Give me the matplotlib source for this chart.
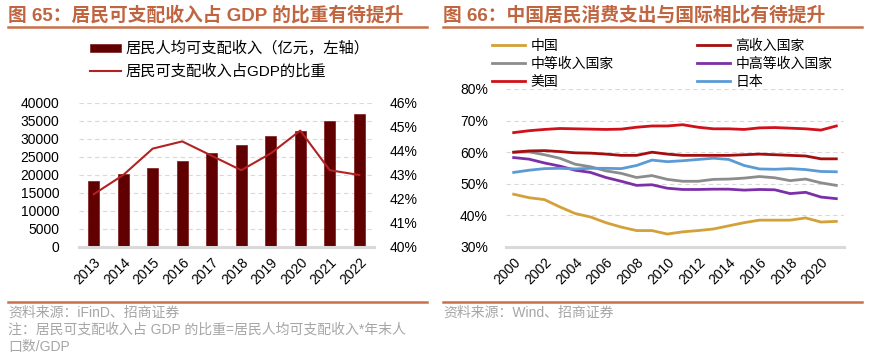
import matplotlib
matplotlib.use("Agg")
import matplotlib.pyplot as plt
from matplotlib.lines import Line2D

plt.rcParams['font.family'] = ['Liberation Sans', 'Noto Sans CJK SC']
plt.rcParams['axes.unicode_minus'] = False

# left chart data
years_l = ["2013", "2014", "2015", "2016", "2017", "2018", "2019", "2020", "2021", "2022"]
income = [18311, 20167, 21966, 23821, 25974, 28228, 30733, 32189, 35128, 36883]
gdp_share = [42.2, 43.0, 44.1, 44.4, 43.8, 43.2, 43.9, 44.85, 43.2, 43.0]

# right chart data
years_r = list(range(2000, 2022))
china = [46.7, 45.6, 45.0, 42.7, 40.6, 39.5, 37.7, 36.3, 35.2, 35.2, 34.1, 34.8,
         35.2, 35.7, 36.7, 37.7, 38.5, 38.5, 38.5, 39.2, 37.9, 38.1]
high_inc = [60.0, 60.4, 60.5, 60.2, 59.8, 59.7, 59.4, 59.0, 59.0, 60.0, 59.4, 59.0,
            59.0, 59.0, 59.0, 59.2, 59.4, 59.2, 59.0, 58.8, 57.9, 57.9]
mid_inc = [60.0, 60.1, 59.2, 58.1, 56.2, 55.4, 54.1, 53.3, 52.0, 52.6, 51.4, 50.8,
           50.8, 51.4, 51.5, 51.8, 52.3, 51.9, 51.0, 51.5, 50.3, 49.5]
upmid_inc = [58.3, 57.8, 56.6, 55.6, 54.3, 53.6, 52.0, 50.8, 49.5, 49.7, 48.6, 48.2,
             48.2, 48.3, 48.3, 48.0, 48.2, 48.1, 46.9, 47.3, 45.8, 45.3]
usa = [66.2, 66.8, 67.2, 67.5, 67.4, 67.3, 67.2, 67.3, 67.9, 68.3, 68.3, 68.7,
       67.9, 67.4, 67.4, 67.2, 67.7, 67.8, 67.6, 67.4, 67.0, 68.3]
japan = [53.6, 54.3, 54.8, 54.9, 54.7, 54.9, 54.9, 54.8, 55.8, 57.5, 57.0, 57.3,
         57.7, 58.1, 57.7, 55.8, 54.7, 54.6, 54.8, 54.5, 53.9, 53.8]

TITLE_C = '#C0653F'
SRC_C = '#A6A6A6'
GRID_C = '#D9D9D9'

fig = plt.figure(figsize=(8.7, 3.63), dpi=100)


def style_axis(ax):
    for s in ['top', 'left', 'right']:
        ax.spines[s].set_visible(False)
    ax.spines['bottom'].set_color(GRID_C)
    ax.spines['bottom'].set_linewidth(2.2)
    ax.tick_params(length=0, labelsize=10, colors='black')
    ax.grid(axis='y', linestyle=(0, (4, 3)), color=GRID_C, linewidth=0.8)
    ax.set_axisbelow(True)


# ---- left chart ----
ax1 = fig.add_axes([79 / 870, 1 - 247 / 363, 295 / 870, 144 / 363])
style_axis(ax1)
x1 = list(range(len(years_l)))
ax1.bar(x1, income, width=0.36, color='#600000', edgecolor='#7a1a1a', linewidth=0.5,
        label='居民人均可支配收入（亿元，左轴）', zorder=2)
ax1.set_ylim(0, 40000)
ax1.set_yticks(range(0, 40001, 5000))
ax1.set_xlim(-0.5, len(years_l) - 0.5)
ax1.set_xticks(x1)
ax1.set_xticklabels(years_l, rotation=45, ha='right', rotation_mode='anchor')
ax1.tick_params(axis='y', pad=14)
ax1.tick_params(axis='x', pad=6)

ax2 = ax1.twinx()
for s in ['top', 'left', 'right', 'bottom']:
    ax2.spines[s].set_visible(False)
ax2.plot(x1, gdp_share, color='#B22222', linewidth=1.5, label='居民可支配收入占GDP的比重', zorder=3)
ax2.set_ylim(40, 46)
ax2.set_yticks(range(40, 47))
ax2.set_yticklabels([f"{v}%" for v in range(40, 47)])
ax2.tick_params(length=0, labelsize=10, pad=11)

h1, l1 = ax1.get_legend_handles_labels()
h2, l2 = ax2.get_legend_handles_labels()
ax2.legend(h1 + h2, l1 + l2, loc='upper left', bbox_to_anchor=(90 / 870, 1 - 41 / 363),
           bbox_transform=fig.transFigure, frameon=False, fontsize=11,
           handlelength=2.0, handleheight=0.5, handletextpad=0.3, labelspacing=0.55,
           borderaxespad=0, borderpad=0)

# ---- right chart ----
ax3 = fig.add_axes([506 / 870, 1 - 247 / 363, 338 / 870, 158 / 363])
style_axis(ax3)
x3 = list(range(len(years_r)))
series = [
    (china, '#D4A039', '中国'),
    (mid_inc, '#8C8C8C', '中等收入国家'),
    (usa, '#D0101A', '美国'),
    (high_inc, '#A50E0E', '高收入国家'),
    (upmid_inc, '#7B2FA8', '中高等收入国家'),
    (japan, '#5B9BD5', '日本'),
]
handles = []
for vals, col, name in series:
    ax3.plot(x3, vals, color=col, linewidth=2, zorder=3)
    handles.append(Line2D([], [], color=col, linewidth=2, label=name))
ax3.set_ylim(30, 80)
ax3.set_yticks(range(30, 81, 10))
ax3.set_yticklabels([f"{v}%" for v in range(30, 81, 10)])
ax3.set_xlim(-0.5, len(years_r) - 0.5)
ax3.set_xticks(x3[::2])
ax3.set_xticklabels([str(y) for y in years_r[::2]], rotation=45, ha='right', rotation_mode='anchor')
ax3.tick_params(axis='y', pad=13)
ax3.tick_params(axis='x', pad=6)
ax3.legend(handles=handles, ncol=2, loc='upper left', bbox_to_anchor=(492 / 870, 1 - 39 / 363),
           bbox_transform=fig.transFigure, frameon=False, fontsize=10,
           handlelength=2.4, handletextpad=0.36, labelspacing=0.3, columnspacing=6.0,
           borderaxespad=0, borderpad=0)

# ---- titles, rules and notes ----
fig.text(8 / 870, 1 - 15 / 363, '图 65：居民可支配收入占 GDP 的比重有待提升', fontsize=13.5,
         fontweight='bold', color=TITLE_C, va='center', ha='left')
fig.text(443 / 870, 1 - 15 / 363, '图 66：中国居民消费支出与国际相比有待提升', fontsize=13.5,
         fontweight='bold', color=TITLE_C, va='center', ha='left')
for x0, x1_ in [(8, 427), (443, 862)]:
    fig.add_artist(Line2D([x0 / 870, x1_ / 870], [1 - 26.5 / 363] * 2, color='#C8704A', linewidth=1.8))
    fig.add_artist(Line2D([x0 / 870, x1_ / 870], [1 - 301.5 / 363] * 2, color='#C8704A', linewidth=1.8))

fig.text(8 / 870, 1 - 313 / 363, '资料来源：iFinD、招商证券', fontsize=10, color=SRC_C, va='center')
fig.text(8 / 870, 1 - 330 / 363, '注：居民可支配收入占 GDP 的比重=居民人均可支配收入*年末人',
         fontsize=10, color=SRC_C, va='center')
fig.text(8 / 870, 1 - 347 / 363, '口数/GDP', fontsize=10, color=SRC_C, va='center')
fig.text(443 / 870, 1 - 313 / 363, '资料来源：Wind、招商证券', fontsize=10, color=SRC_C, va='center')

fig.savefig('out.png', dpi=100)
